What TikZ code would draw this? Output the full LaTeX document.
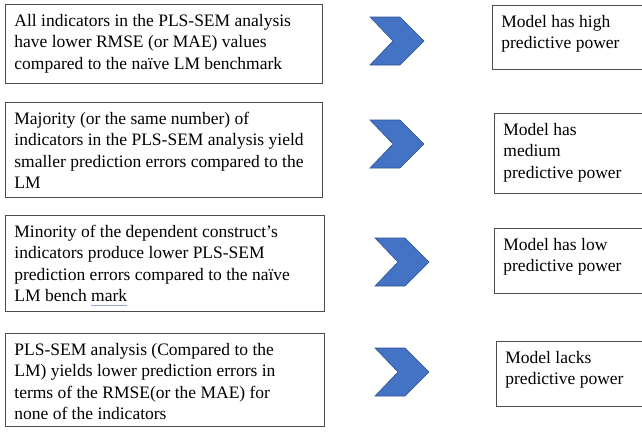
\documentclass[tikz,border=0pt]{standalone}
\usepackage{fontspec}
\setmainfont{Liberation Serif}
\usetikzlibrary{calc}
\definecolor{chevblue}{HTML}{4472C4}
\definecolor{chevedge}{HTML}{2F528F}
\definecolor{markblue}{HTML}{8FA8DC}
\def\chevron(#1,#2){\filldraw[chev] (#1,#2) -- ++(30,0) -- ++(24,24) -- ++(-24,24) -- ++(-30,0) -- ++(23,-24) -- cycle;}
\newcommand\cellbox[3]{\parbox[t][#2pt][t]{#1pt}{\raggedright\strut #3}}
\newcommand\spellmark[1]{\setbox0\hbox{#1}\rlap{\color{markblue}\rule[-3.5pt]{\wd0}{0.7pt}}#1}
\tikzset{
	cell/.style={draw=black!70, line width=0.8pt, anchor=north west, inner xsep=9pt, inner ysep=7pt, font=\fontsize{17.5}{21.5}\selectfont},
	chev/.style={fill=chevblue, draw=chevedge, line width=0.6pt}
}
\begin{document}
\begin{tikzpicture}[x=1pt,y=-1pt]
			%%%%% START %%%%%
			\useasboundingbox (0,0) rectangle (642,431);
			\clip (0,0) rectangle (642,431);
			
			\node[cell] (cond1) at (5,4) {\cellbox{299}{65}{All indicators in the PLS-SEM analysis\\have lower RMSE (or MAE) values\\compared to the naïve LM benchmark}};
			\chevron(370,17);
			\node[cell] (res1) at (492,5) {\cellbox{150}{50}{Model has high\\predictive power}};
			
			\node[cell] (cond2) at (5,102) {\cellbox{299}{81}{Majority (or the same number) of\\indicators in the PLS-SEM analysis yield\\smaller prediction errors compared to the\\LM}};
			\chevron(370,120);
			\node[cell] (res2) at (494,113) {\cellbox{150}{66}{Model has\\medium\\predictive power}};
			
			\node[cell] (cond3) at (5,215) {\cellbox{301}{82}{Minority of the dependent construct’s\\indicators produce lower PLS-SEM\\prediction errors compared to the naïve\\LM bench \spellmark{mark}}};
			\chevron(375,238);
			\node[cell] (res3) at (494,228) {\cellbox{150}{51}{Model has low\\predictive power}};
			
			\node[cell] (cond4) at (5,333) {\cellbox{301}{79}{PLS-SEM analysis (Compared to the\\LM) yields lower prediction errors in\\terms of the RMSE(or the MAE) for\\none of the indicators}};
			\chevron(375,348);
			\node[cell] (res4) at (496,341) {\cellbox{150}{51}{Model lacks\\predictive power}};
			
			%%%%% END %%%%%
\end{tikzpicture}
\end{document}
